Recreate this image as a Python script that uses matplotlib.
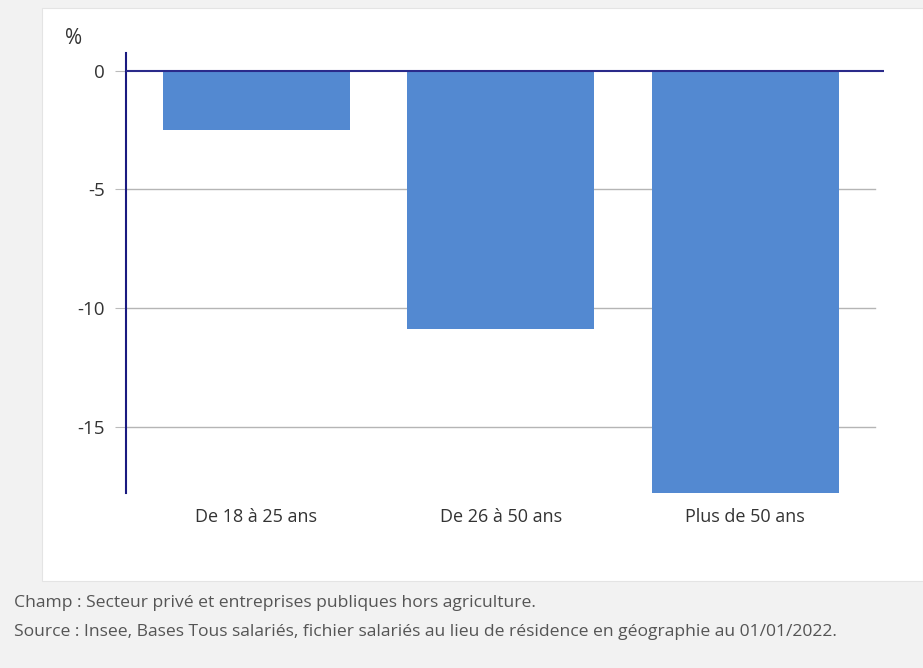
import matplotlib.pyplot as plt
from matplotlib.patches import Rectangle

plt.rcParams['font.family'] = ['Open Sans', 'DejaVu Sans']

categories = ['De 18 à 25 ans', 'De 26 à 50 ans', 'Plus de 50 ans']
values = [-2.5, -10.9, -17.8]
yticks = [0, -5, -10, -15]
notes = ['Champ : Secteur privé et entreprises publiques hors agriculture.',
         'Source : Insee, Bases Tous salariés, fichier salariés au lieu de résidence en géographie au 01/01/2022.']

W, H = 923, 668
fig = plt.figure(figsize=(W / 100, H / 100), dpi=100)
fig.patch.set_facecolor('#f2f2f2')
# white panel behind the chart
panel = Rectangle((42 / W, 1 - 581 / H), 1 - 42 / W, (581 - 8) / H,
                  transform=fig.transFigure, facecolor='white',
                  edgecolor='#e4e4e4', lw=0.8, zorder=-5)
fig.add_artist(panel)

ax = fig.add_axes([126 / W, 1 - 493 / H, (884 - 126) / W, (493 - 53) / H])
ax.set_zorder(2)
ax.set_facecolor('none')
x = range(len(categories))
ax.bar(x, values, width=0.765, color='#5389d1', zorder=2)
ax.set_xlim(-0.533, 2.567)
ax.set_ylim(-17.8, 0.75)
ax.set_yticks(yticks)
ax.set_yticklabels([str(v) for v in yticks], color='#333333', fontsize=13.5)
ax.set_xticks(list(x))
ax.set_xticklabels(categories, color='#333333', fontsize=13)
ax.tick_params(axis='x', length=0, pad=11)
ax.tick_params(axis='y', length=8, color='#bbbbbb', pad=7)
for v in yticks[1:]:
    ax.axhline(v, xmax=0.988, color='#b5b5b5', lw=1, zorder=1)
ax.axhline(0, color='#2a2a8a', lw=1.5, zorder=3)
for s in ['top', 'right', 'bottom']:
    ax.spines[s].set_visible(False)
ax.spines['left'].set_color('#1a1a80')
ax.spines['left'].set_linewidth(1.5)

fig.text(65 / W, 1 - 38 / H, '%', fontsize=15, color='#333333', va='center')
fig.text(14 / W, 1 - 603 / H, notes[0], fontsize=12.6, color='#555555', va='center')
fig.text(14 / W, 1 - 632 / H, notes[1], fontsize=12.6, color='#555555', va='center')

fig.savefig('out.png', dpi=100, facecolor=fig.get_facecolor())
